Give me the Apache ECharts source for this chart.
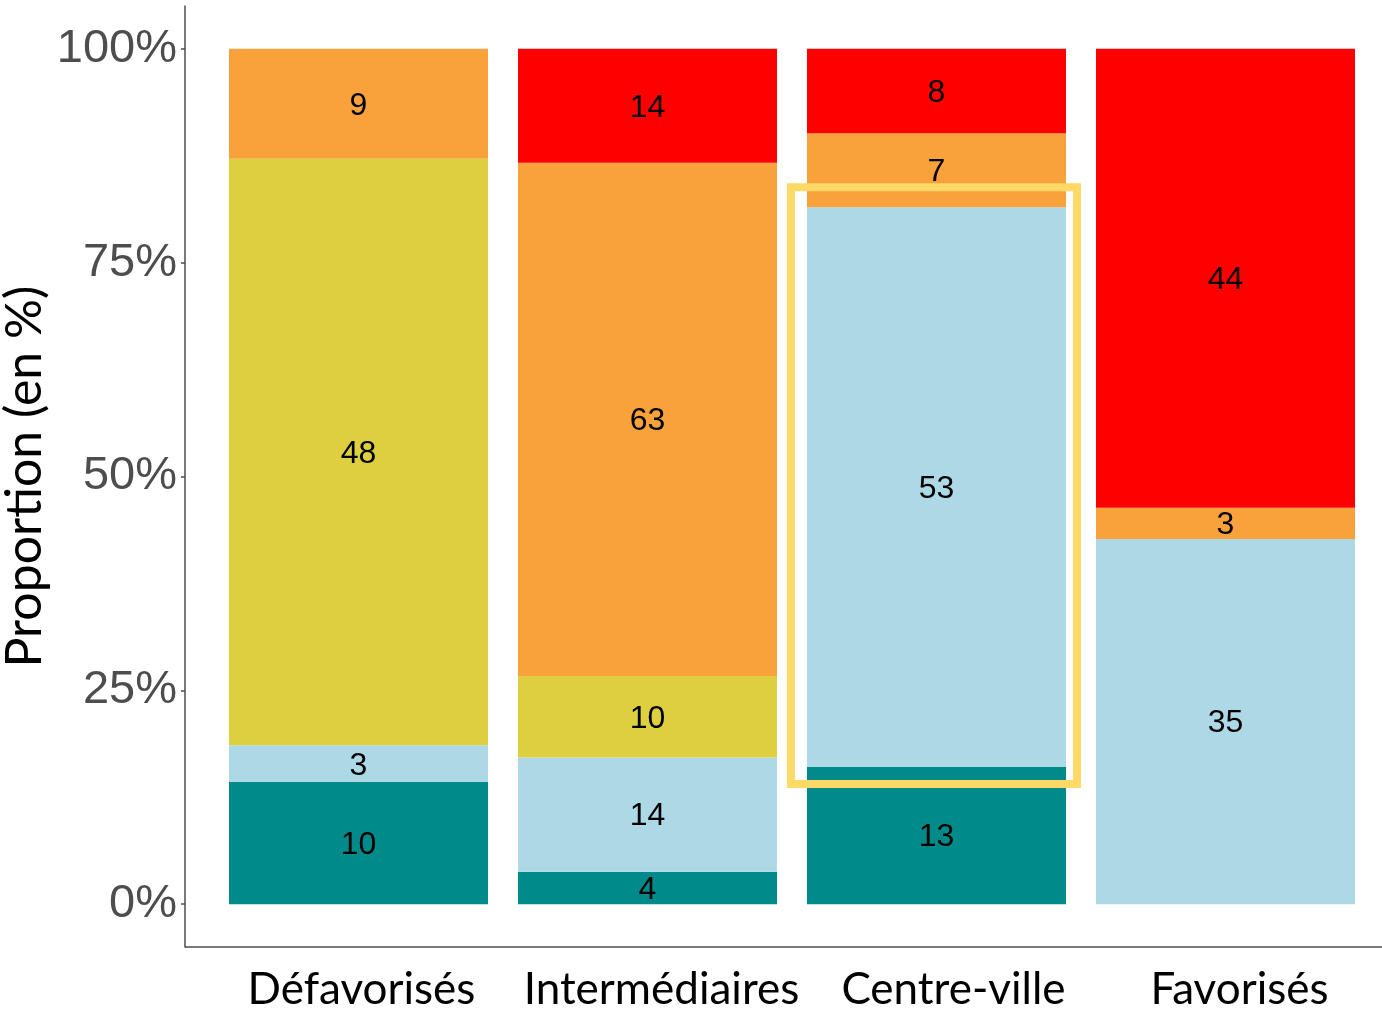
<!DOCTYPE html>
<html>
<head>
<meta charset="utf-8">
<script src="https://cdn.jsdelivr.net/npm/echarts@6/dist/echarts.min.js"></script>
<style>
html,body{margin:0;padding:0;background:#fff;}
#chart{width:1382px;height:1011px;}
</style>
</head>
<body>
<div id="chart"></div>
<script>
// Categories (x axis)
const categories = ['Défavorisés', 'Intermédiaires', 'Centre-ville', 'Favorisés'];
// Counts per group, stacked from bottom to top
const tealCounts = [10, 4, 13, 0];
const lightBlueCounts = [3, 14, 53, 35];
const yellowCounts = [48, 10, 0, 0];
const orangeCounts = [9, 63, 7, 3];
const redCounts = [0, 14, 8, 44];
// Y tick labels
const yTicks = [0, 25, 50, 75, 100];
// Highlighted category
const highlightCategory = 'Centre-ville';
const highlightTop = 83.8;
const highlightBottom = 14.05;
// horizontal nudge of each category label (px, style only)
const labelNudge = [6, 28, 34, 28];

const groups = [
  { name: 'teal', counts: tealCounts, color: '#008B8A' },
  { name: 'lightblue', counts: lightBlueCounts, color: '#ADD8E6' },
  { name: 'yellow', counts: yellowCounts, color: '#DDCF3F' },
  { name: 'orange', counts: orangeCounts, color: '#F9A23B' },
  { name: 'red', counts: redCounts, color: '#FF0000' }
];
const totals = categories.map((c, i) => groups.reduce((s, g) => s + g.counts[i], 0));

const chart = echarts.init(document.getElementById('chart'), null, { renderer: 'canvas' });

const series = groups.map(g => ({
  name: g.name,
  type: 'bar',
  stack: 'total',
  barWidth: 259,
  data: g.counts.map((v, i) => v / totals[i] * 100),
  itemStyle: { color: g.color },
  label: {
    show: true,
    position: 'inside',
    offset: [0, 2],
    color: '#000',
    fontSize: 32,
    fontFamily: 'Liberation Sans, Arial, sans-serif',
    formatter: p => (g.counts[p.dataIndex] ? String(g.counts[p.dataIndex]) : '')
  },
  emphasis: { disabled: true }
}));

chart.setOption({
  animation: false,
  backgroundColor: '#fff',
  grid: { left: 214, right: 12, top: 6, bottom: 64, outerBoundsMode: 'none', containLabel: false },
  xAxis: {
    type: 'category',
    data: categories.map((c, i) => ({ value: c, textStyle: { padding: [0, 0, 0, labelNudge[i]] } })),
    axisLine: { show: false },
    axisTick: { show: false },
    axisLabel: {
      interval: 0,
      color: '#000',
      fontSize: 44,
      fontFamily: 'Lato, Open Sans, sans-serif',
      margin: 21
    }
  },
  yAxis: {
    type: 'value',
    min: -5,
    max: 105,
    offset: 29,
    splitLine: { show: false },
    axisLine: { show: true, lineStyle: { color: '#4D4D4D', width: 1.5 } },
    axisTick: { show: true, length: 4, customValues: yTicks, lineStyle: { color: '#4D4D4D', width: 1.5 } },
    axisLabel: {
      customValues: yTicks,
      formatter: v => v + '%',
      color: '#4D4D4D',
      fontSize: 47,
      fontFamily: 'Liberation Sans, Arial, sans-serif',
      margin: 8
    },
    name: 'Proportion (en %)',
    nameLocation: 'middle',
    nameGap: 135,
    nameMoveOverlap: false,
    nameTextStyle: {
      color: '#000',
      fontSize: 50,
      fontFamily: 'Lato, Open Sans, sans-serif'
    }
  },
  series: series
});

const cx = chart.convertToPixel({ xAxisIndex: 0 }, highlightCategory);
const yTop = chart.convertToPixel({ yAxisIndex: 0 }, highlightTop);
const yBot = chart.convertToPixel({ yAxisIndex: 0 }, highlightBottom);
const y0 = chart.convertToPixel({ yAxisIndex: 0 }, -5);

chart.setOption({
  graphic: [
    {
      type: 'line',
      shape: { x1: 185, y1: y0, x2: 1382, y2: y0 },
      style: { stroke: '#4D4D4D', lineWidth: 1.5 },
      silent: true
    },
    {
      type: 'rect',
      shape: { x: cx - 145.5, y: yTop, width: 286, height: yBot - yTop },
      style: { fill: 'none', stroke: '#FFD966', lineWidth: 8 },
      silent: true,
      z: 100
    }
  ]
});
</script>
</body>
</html>
